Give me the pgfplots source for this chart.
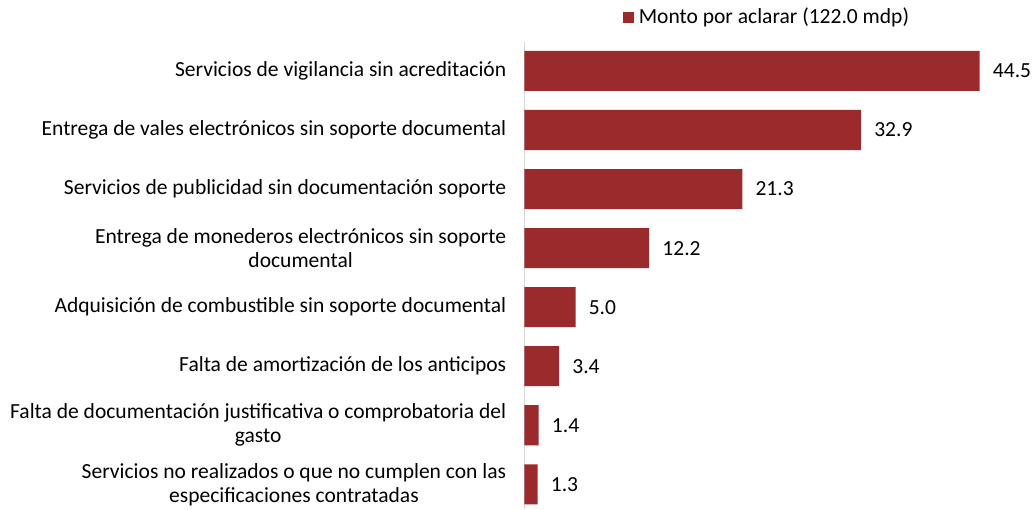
\documentclass[border=0pt]{standalone}
\usepackage{pgfplots}
\pgfplotsset{compat=1.18}
\usepackage{fontspec}
\setmainfont{Carlito}
\definecolor{barred}{HTML}{9B2A2C}
\begin{document}
\fontsize{21.5}{24}\selectfont
\begin{tikzpicture}
\begin{axis}[
  xbar,
  scale only axis,
  width=510pt, height=466pt,
  xmin=0, xmax=49.9,
  ymin=-0.49, ymax=7.41,
  y dir=reverse,
  bar width=40pt,
  axis x line=none,
  axis y line=left,
  y axis line style={draw=black!15, line width=1.2pt, -},
  ytick={0,...,7},
  yticklabels={
    Servicios de vigilancia sin acreditación,
    Entrega de vales electrónicos sin soporte documental,
    Servicios de publicidad sin documentación soporte,
    {Entrega de monederos electrónicos sin soporte\\documental},
    Adquisición de combustible sin soporte documental,
    Falta de amortización de los anticipos,
    {Falta de documentación justificativa o comprobatoria del\\gasto},
    {Servicios no realizados o que no cumplen con las\\especificaciones contratadas}},
  yticklabel style={align=center, font=\fontsize{21.5}{24}\selectfont, xshift=-15pt, inner sep=3pt},
  major tick length=0pt,
  nodes near coords,
  nodes near coords style={anchor=west, xshift=13pt, inner sep=0pt, font=\fontsize{21.5}{24}\selectfont, text=black},
  /pgf/number format/.cd, fixed, fixed zerofill, precision=1, assume math mode=true,
  /pgfplots/.cd,
  legend style={at={(rel axis cs:0.475,1.052)}, anchor=center, draw=none, fill=none,
    font=\fontsize{21.5}{24}\selectfont, inner sep=0pt},
  legend image code/.code={\path (0pt,0pt) -- (14pt,0pt);
    \fill[barred] (0pt,-5.5pt) rectangle (11.5pt,6pt);},
  clip=false,
]
\addplot[fill=barred, draw=none] coordinates {
  (44.5,0) (32.9,1) (21.3,2) (12.2,3) (5.0,4) (3.4,5) (1.4,6) (1.3,7)};
\legend{Monto por aclarar (122.0 mdp)}
\path (rel axis cs:-1.027,1.09) (rel axis cs:1,0);
\end{axis}
\end{tikzpicture}
\end{document}
